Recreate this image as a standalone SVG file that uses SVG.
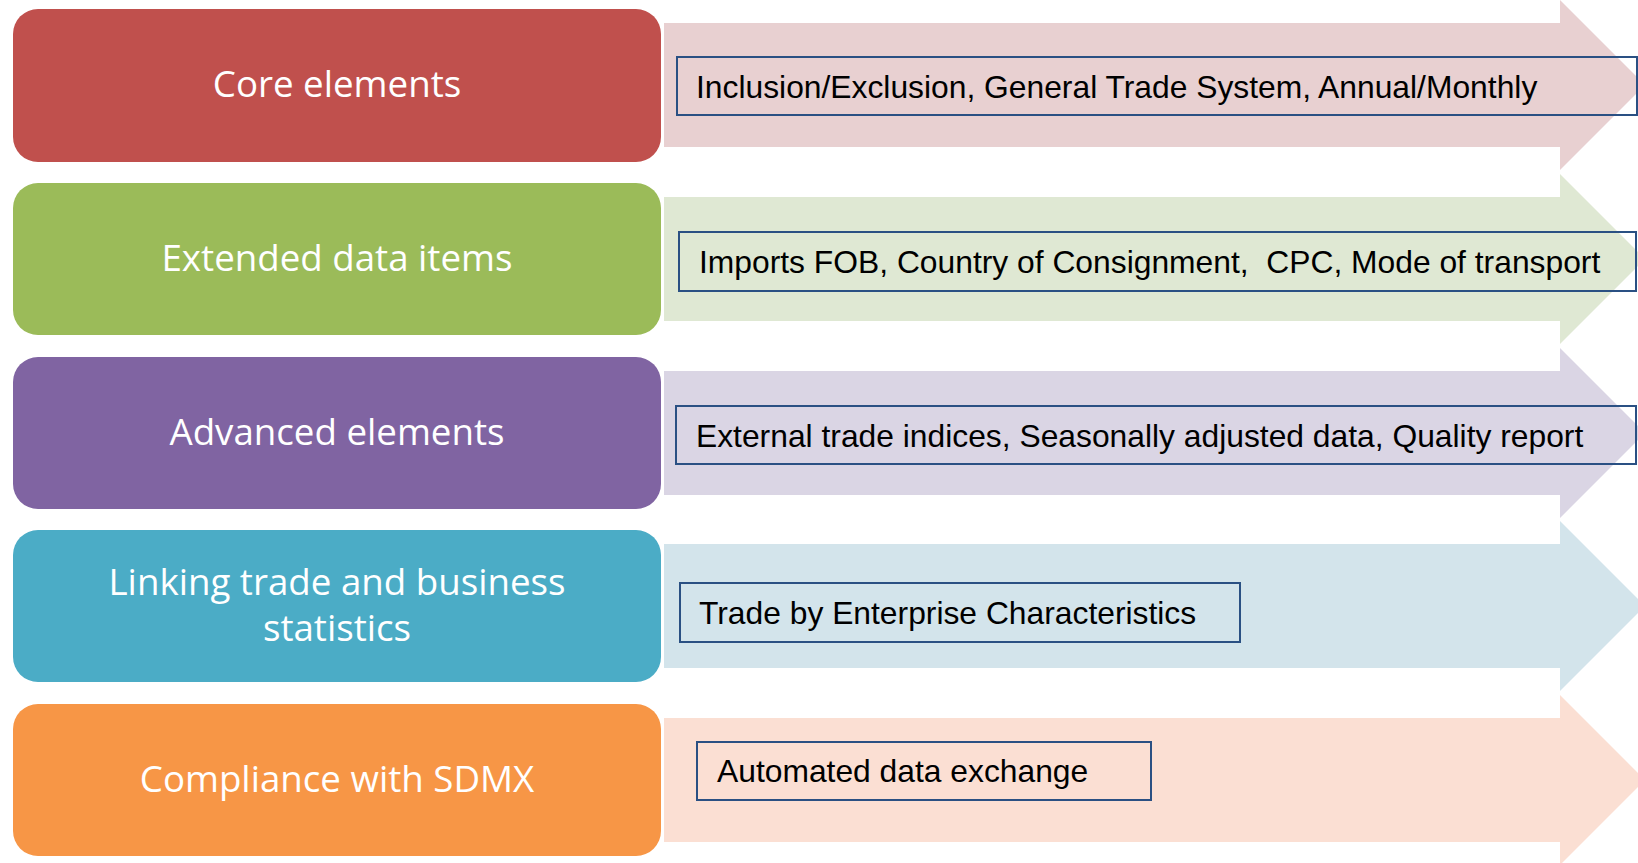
<svg xmlns="http://www.w3.org/2000/svg" width="1638" height="863" viewBox="0 0 1638 863">
<style>
.box{stroke:none}
.lbl{font-family:"Open Sans","Noto Sans","Liberation Sans",sans-serif;font-size:36.7px;fill:#ffffff;text-anchor:middle}
.tb{fill:none;stroke:#2a5083;stroke-width:2}
.tt{font-family:"Liberation Sans",Arial,sans-serif;font-size:31.8px;fill:#000000;white-space:pre}
</style>
<rect width="1638" height="863" fill="#ffffff"/>
<g id="connectors">
<path id="arrow1" fill="#e8d0d1" d="M664,23 H1560 V0 L1645,85 L1560,170 V147 H664 Z"/>
<path id="arrow2" fill="#dfe8d3" d="M664,197 H1560 V174 L1645,259 L1560,344 V321 H664 Z"/>
<path id="arrow3" fill="#dad5e4" d="M664,371 H1560 V348 L1645,433 L1560,518 V495 H664 Z"/>
<path id="arrow4" fill="#d3e4eb" d="M664,544 H1560 V521 L1645,606 L1560,691 V668 H664 Z"/>
<path id="arrow5" fill="#fbdfd3" d="M664,718 H1560 V695 L1645,780 L1560,865 V842 H664 Z"/>
</g>
<g id="node-core">
<rect class="box" x="13" y="9" width="648" height="153" rx="25" fill="#c0504d"/>
<text class="lbl" x="337" y="97">Core elements</text>
</g>
<g id="node-extended">
<rect class="box" x="13" y="183" width="648" height="152" rx="25" fill="#9bbb59"/>
<text class="lbl" x="337" y="271">Extended data items</text>
</g>
<g id="node-advanced">
<rect class="box" x="13" y="357" width="648" height="152" rx="25" fill="#8064a2"/>
<text class="lbl" x="337" y="445">Advanced elements</text>
</g>
<g id="node-linking">
<rect class="box" x="13" y="530" width="648" height="152" rx="25" fill="#4bacc6"/>
<text class="lbl" x="337" y="595">Linking trade and business</text>
<text class="lbl" x="337" y="641">statistics</text>
</g>
<g id="node-sdmx">
<rect class="box" x="13" y="704" width="648" height="152" rx="25" fill="#f79646"/>
<text class="lbl" x="337" y="792">Compliance with SDMX</text>
</g>
<g id="detail-core">
<rect class="tb" x="677" y="57" width="960" height="58"/>
<text class="tt" x="696" y="98">Inclusion/Exclusion, General Trade System, Annual/Monthly</text>
</g>
<g id="detail-extended">
<rect class="tb" x="679" y="232" width="957" height="59"/>
<text class="tt" x="699" y="273" xml:space="preserve">Imports FOB, Country of Consignment,  CPC, Mode of transport</text>
</g>
<g id="detail-advanced">
<rect class="tb" x="676" y="406" width="960" height="58"/>
<text class="tt" x="696" y="447">External trade indices, Seasonally adjusted data, Quality report</text>
</g>
<g id="detail-linking">
<rect class="tb" x="680" y="583" width="560" height="59"/>
<text class="tt" x="699" y="624">Trade by Enterprise Characteristics</text>
</g>
<g id="detail-sdmx">
<rect class="tb" x="697" y="742" width="454" height="58"/>
<text class="tt" x="717" y="782">Automated data exchange</text>
</g>
</svg>
